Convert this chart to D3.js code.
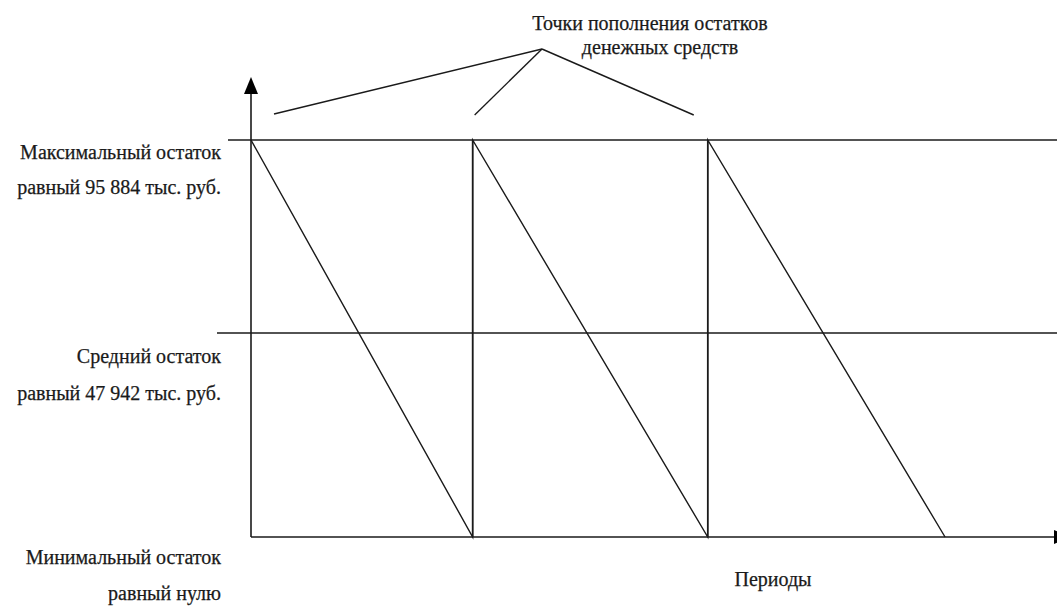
<!DOCTYPE html>
<html>
<head>
<meta charset="utf-8">
<script src="https://cdn.jsdelivr.net/npm/d3@7"></script>
<style>
  html, body { margin: 0; padding: 0; background: #fff; }
  svg { display: block; }
</style>
</head>
<body>
<svg id="chart" width="1057" height="606"></svg>
<script>
// ---- data ----
const levelNames = ["min", "mean", "max"];
const levelValues = [0, 47942, 95884];            // тыс. руб.
const levelLabels = [
  ["Минимальный остаток", "равный нулю"],
  ["Средний остаток", "равный 47 942 тыс. руб."],
  ["Максимальный остаток", "равный 95 884 тыс. руб."]
];
// replenishment moments (periods) and moments the balance reaches zero
const replenishTimes = [0, 9.9, 20.4];
const depletionTimes = [9.9, 20.4, 31.0];
const xAxisLabel = "Периоды";
const titleLines = ["Точки пополнения остатков", "денежных средств"];

// ---- layout ----
const W = 1057, H = 606;
const x0 = 251, yBottom = 537, yTop = 140, yMid = 333;
const FONT = "'Liberation Serif', 'Times New Roman', Tinos, serif";
const svg = d3.select("#chart");

const x = d3.scaleLinear().domain([0, 36]).range([x0, 1057]);
const y = d3.scaleLinear().domain(levelValues).range([yBottom, yMid, yTop]);

const ink = "#1a1a1a";

// horizontal level lines (mean, max)
const levelLineStart = { mean: 217, max: 228 };
["mean", "max"].forEach(n => {
  const v = levelValues[levelNames.indexOf(n)];
  svg.append("line")
    .attr("x1", levelLineStart[n]).attr("x2", W)
    .attr("y1", y(v)).attr("y2", y(v))
    .attr("stroke", ink).attr("stroke-width", 1.6);
});

// axes
svg.append("line").attr("x1", x(0)).attr("x2", 1056)
  .attr("y1", y(0)).attr("y2", y(0)).attr("stroke", ink).attr("stroke-width", 1.6);
svg.append("line").attr("x1", x(0)).attr("x2", x(0))
  .attr("y1", y(0)).attr("y2", 90).attr("stroke", ink).attr("stroke-width", 1.6);
// y arrow
svg.append("path")
  .attr("d", `M${x(0)},77 L${x(0) - 7},94 L${x(0) + 7},94 Z`)
  .attr("fill", "#000");
// x arrow (tip beyond canvas edge)
svg.append("path")
  .attr("d", `M1071,${y(0)} L1054,${y(0) - 7} L1054,${y(0) + 7} Z`)
  .attr("fill", "#000");

// sawtooth balance line
const pts = [];
replenishTimes.forEach((t, i) => {
  pts.push([t, levelValues[2]]);
  pts.push([depletionTimes[i], levelValues[0]]);
});
const line = d3.line().x(d => x(d[0])).y(d => y(d[1]));
svg.append("path").datum(pts)
  .attr("d", line)
  .attr("fill", "none").attr("stroke", ink).attr("stroke-width", 1.4)
  .attr("stroke-linejoin", "miter");
// vertical replenishment jumps
replenishTimes.slice(1).forEach(t => {
  svg.append("line").attr("x1", x(t)).attr("x2", x(t))
    .attr("y1", y(levelValues[0])).attr("y2", y(levelValues[2]))
    .attr("stroke", ink).attr("stroke-width", 1.6);
});

// annotation lines pointing to replenishment points
const apex = [542, 49];
const annotOffsets = [[23, -26], [2, -25], [-14, -25]];
replenishTimes.forEach((t, i) => {
  svg.append("line")
    .attr("x1", apex[0]).attr("y1", apex[1])
    .attr("x2", x(t) + annotOffsets[i][0]).attr("y2", y(levelValues[2]) + annotOffsets[i][1])
    .attr("stroke", ink).attr("stroke-width", 1.4);
});

function addText(px, py, anchor, s) {
  svg.append("text").attr("x", px).attr("y", py).attr("text-anchor", anchor)
    .attr("font-family", FONT).attr("font-size", 20).attr("fill", ink)
    .attr("stroke", ink).attr("stroke-width", 0.25).text(s);
}

// title
addText(650, 30, "middle", titleLines[0]);
addText(660, 54, "middle", titleLines[1]);

// level labels (right-aligned)
const labelBaselines = { min: [564, 600], mean: [363, 400], max: [159, 194] };
levelNames.forEach((n, i) => {
  levelLabels[i].forEach((s, j) => addText(221, labelBaselines[n][j], "end", s));
});

// x axis label
addText(773, 586, "middle", xAxisLabel);
</script>
</body>
</html>
